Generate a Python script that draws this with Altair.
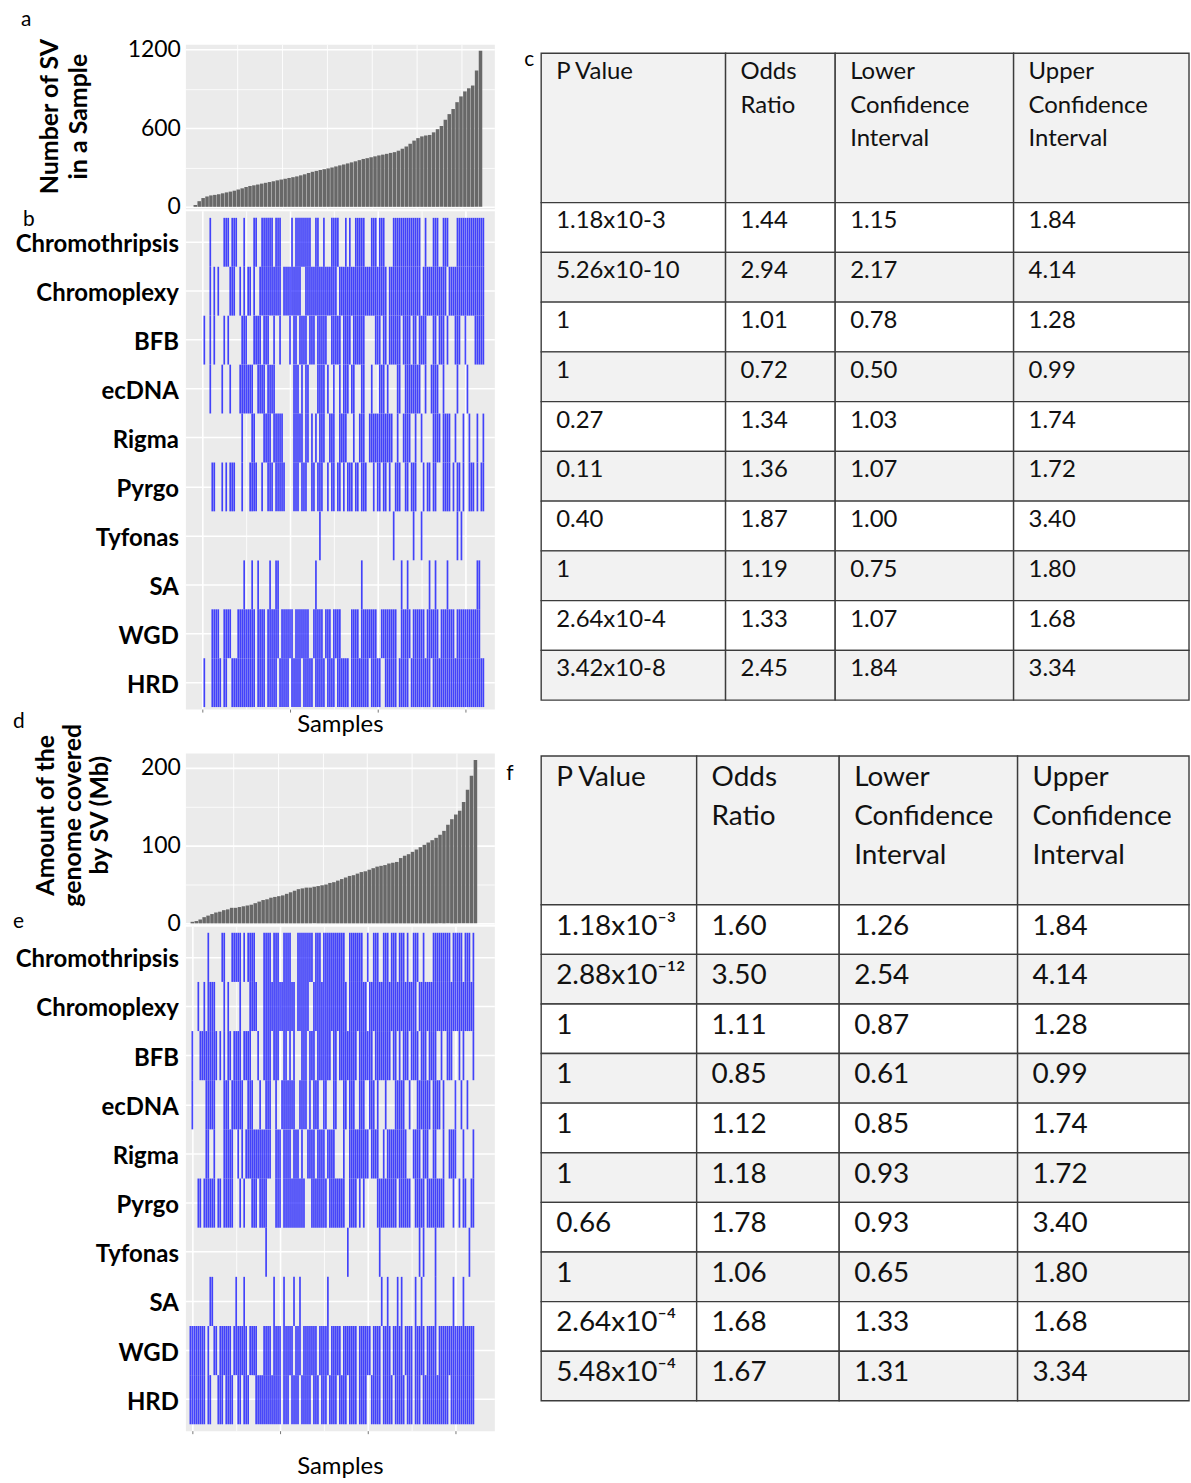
import altair as alt
import pandas as pd

FONT = "Lato"
BLUE = "#0000ff"

# ---------------- data ----------------
# panel a: number of SV per sample (sorted)
SV_PER_SAMPLE = [14, 43, 67, 79, 87, 91, 96, 103, 110, 116, 123, 132, 141, 151, 159, 164, 170, 177, 183, 189,
                 195, 202, 208, 214, 220, 226, 232, 240, 248, 258, 267, 274, 281, 287, 293, 300, 308, 316, 323, 331,
                 339, 347, 356, 365, 371, 378, 385, 392, 398, 404, 411, 417, 428, 443, 460, 481, 505, 524, 537, 544,
                 548, 568, 592, 616, 664, 707, 746, 798, 842, 880, 904, 925, 1040, 1190]
# panel d: genome covered by SV (Mb), sorted
GENOME_MB = [2, 3, 5, 8, 10, 12, 14, 15, 17, 18, 20, 20, 21, 22, 23, 24, 26, 28, 30, 31,
             33, 34, 35, 36, 38, 40, 42, 44, 45, 46, 46, 47, 48, 49, 50, 52, 53, 55, 57, 59,
             61, 62, 64, 66, 67, 69, 71, 73, 74, 75, 77, 78, 79, 84, 87, 89, 92, 95, 98, 101,
             104, 107, 110, 114, 119, 127, 134, 140, 145, 156, 172, 190, 210]

CATEGORIES = ["Chromothripsis", "Chromoplexy", "BFB", "ecDNA", "Rigma", "Pyrgo", "Tyfonas", "SA", "WGD", "HRD"]

# panel b: sample positions carrying each event (ranges of sample slots)
B_CHROMOTHRIPSIS = "5 12-14 16-18 22 27-28 31-33 34-36 38-40 46 48-51 52-55 58-59 62 66-69 73 75 78-81 82 86-88 90-92 97-100 101-106 107-110 113 117-119 122-124 129-131 132-135 136-139 140-142"
B_CHROMOPLEXY = "5 7 9 15-16 17 20 22 24-25 27 30-32 33-34 35-37 38-40 42-50 53-57 58-63 64-68 70-80 81-86 87-93 95-100 101-110 112-114 115-123 125-128 129-131 132-136 137-142"
B_BFB = "2 5 7 12 14 21-23 27-30 32-34 37 40 45 47-48 50-53 55-57 59-62 63 66-67 68-70 72-73 74-75 77 78-81 82 88-90 92-93 95-97 98-100 102-105 107-108 110-112 113 117-118 120-122 124 128-130 133 138-142"
B_ECDNA = "5 11 15 20-23 24-26 29-32 34-37 47-49 51 53-54 59-62 64 67 70 72-74 76-77 81-82 86 90-92 94 99-100 103-107 108-110 113 116-119 122 129 134"
B_RIGMA = "21 26-27 32-35 37-41 47-48 49-51 53-54 56 58 60-62 65-67 70-72 73 77 80-82 85-87 88-93 94-96 99 102-105 108 111 117-120 122-125 128 132 135 139 142"
B_PYRGO = "6-7 11 13 15-17 21 25-28 31 34-36 38-42 47-49 51-53 56-57 59-61 64 66-67 69-70 72 74-76 78-79 81-83 87 89-90 92-93 95 98-100 103-104 106-107 108 112 114-115 117-118 122-125 127 129-130 132 135-137 139 141-142"
B_TYFONAS = "60 97 107 111 129 131"
B_SA = "22 26 29 35 38-39 58 81 101 104 115 118 124 139-140"
B_WGD = "6-9 12-15 19-23 24-27 29-32 34-39 41-46 48-54 57-61 63-65 67-70 76-79 81-88 91-98 101-105 107-112 114-119 121-127 129-140"
B_HRD = "2 6-10 12-13 16-19 20-23 24-27 29-32 34-38 40-44 46-50 52-56 58-62 64-67 69-74 76-80 81-84 86-90 93-98 100-104 106-115 117-142"

# panel e
E_CHROMOTHRIPSIS = "9 16-17 21-23 24-25 27 29-32 37-40 42-44 47-50 54-57 58-61 63-65 67-69 70-77 80-81 82-86 89 92-94 97-99 101-103 105-107 109 112-114 117 122-125 126-130 132-136 138-140 142"
E_CHROMOPLEXY = "4 7 9-12 17 19 25 30-32 33 37-40 41-43 44-52 54-57 58-59 62-69 70-78 80-88 90-95 96-105 106-113 115-122 123-133 134-142"
E_BFB = "1 5-7 8-9 10-11 12-13 15 17 19-20 22-24 25 27-30 34 37-40 42-44 47-48 50 52 56-58 60-62 64-67 68-70 72-73 75-77 78-81 82-83 85-88 89-91 93-97 98-100 102-103 105 107-109 111-114 116-118 120-122 123 126 129-131 135 137 142"
E_ECDNA = "1 8-11 12 17-19 21-22 23-25 26 29-31 35 38-40 43 46-49 50-52 55-58 60 62-64 67-68 72-73 77-78 80-82 85-87 90-92 94 98 103-107 110 114-117 118-120 122-125 127 133 136 139"
E_RIGMA = "8-9 12 17-21 24 26 28-32 33-37 38-40 43-45 47-50 52-54 56 59-61 62 64-67 69-71 72 77 80-82 83-86 87-89 91-94 97 99-102 103-107 108 112-115 117-119 122 123 127 130-132 133 137 142"
E_PYRGO = "4-5 7-12 14-15 17-21 25 27 31-33 35-38 43-45 47-52 53-57 61-63 64-68 70-72 73-75 76-77 80-83 85 87 94-97 98-103 105-107 108-110 113-117 119-122 123-127 132 135 137-138 141-142"
E_TYFONAS = "38 79 95 115 117 123 140"
E_SA = "10 11 23 27 42 47 52 55 69 96 99 104 106 113 116 123 132 137"
E_WGD = "0-7 9 12-13 15-17 18-20 22-28 30-33 37-40 42-45 47-51 53-55 57-63 65-69 71-75 77-83 85-90 92-95 97-100 102-106 108-111 113-117 119-123 125-142"
E_HRD = "0-7 9-10 14-16 18-21 24-25 27-29 33-45 47-49 51-54 56-60 62-64 66-68 70-73 75-78 80-83 85-88 91-95 97-101 103-107 109-111 113-115 117-122 123-129 131-142"

B_ROWS = [B_CHROMOTHRIPSIS, B_CHROMOPLEXY, B_BFB, B_ECDNA, B_RIGMA, B_PYRGO, B_TYFONAS, B_SA, B_WGD, B_HRD]
E_ROWS = [E_CHROMOTHRIPSIS, E_CHROMOPLEXY, E_BFB, E_ECDNA, E_RIGMA, E_PYRGO, E_TYFONAS, E_SA, E_WGD, E_HRD]

# tables
HEADERS = ["P Value", "Odds\nRatio", "Lower\nConfidence\nInterval", "Upper\nConfidence\nInterval"]
C_PVALUE = ["1.18x10-3", "5.26x10-10", "1", "1", "0.27", "0.11", "0.40", "1", "2.64x10-4", "3.42x10-8"]
C_ODDS = [1.44, 2.94, 1.01, 0.72, 1.34, 1.36, 1.87, 1.19, 1.33, 2.45]
C_LOWER = [1.15, 2.17, 0.78, 0.50, 1.03, 1.07, 1.00, 0.75, 1.07, 1.84]
C_UPPER = [1.84, 4.14, 1.28, 0.99, 1.74, 1.72, 3.40, 1.80, 1.68, 3.34]

F_PVALUE = ["1.18x10\u207b\u00b3", "2.88x10\u207b\u00b9\u00b2", "1", "1", "1", "1", "0.66", "1",
            "2.64x10\u207b\u2074", "5.48x10\u207b\u2074"]
F_ODDS = [1.60, 3.50, 1.11, 0.85, 1.12, 1.18, 1.78, 1.06, 1.68, 1.67]
F_LOWER = [1.26, 2.54, 0.87, 0.61, 0.85, 0.93, 0.93, 0.65, 1.33, 1.31]
F_UPPER = [1.84, 4.14, 1.28, 0.99, 1.74, 1.72, 3.40, 1.80, 1.68, 3.34]


# ---------------- helpers ----------------
def expand(spec):
    out = set()
    for tok in spec.split():
        if "-" in tok:
            lo, hi = tok.split("-")
            out.update(range(int(lo), int(hi) + 1))
        else:
            out.add(int(tok))
    return sorted(out)


def panel_title(label, dx, dy):
    return alt.Title(label, anchor="start", orient="top", frame="group", dx=dx, dy=dy, offset=0,
                     fontSize=21, fontWeight="normal", font=FONT, color="black", baseline="middle")


GRAY_VIEW = alt.ViewBackground(fill="#ebebeb", stroke="transparent")
CLEAR_VIEW = alt.ViewBackground(stroke="transparent")


def bar_panel(values, label, ldx, ldy, ytitle, ydomain, xdomain, xgrid, tick_vals, major, height,
              title_pad, title_lh, title_y):
    df = pd.DataFrame({"sample": list(range(len(values))), "value": values})
    major_test = f"datum.value % {major} == 0"
    return alt.Chart(df, title=panel_title(label, ldx, ldy)).transform_calculate(
        x0="datum.sample - 0.45", x1="datum.sample + 0.45"
    ).mark_rect(color="#686868").encode(
        x=alt.X("x0:Q", scale=alt.Scale(domain=xdomain, nice=False, zero=False),
                axis=alt.Axis(values=xgrid, labels=False, ticks=False, domain=False, title=None,
                              grid=True, gridColor="white", gridWidth=0.9)),
        x2="x1:Q",
        y=alt.Y("value:Q", scale=alt.Scale(domain=ydomain, nice=False, zero=False),
                axis=alt.Axis(values=tick_vals, format="d",
                              labelExpr=f"{major_test} ? datum.label : ''",
                              grid=True, gridColor="white",
                              gridWidth={"condition": {"test": major_test, "value": 1.6}, "value": 0.8},
                              ticks=False, domain=False, labelFont=FONT, labelFontSize=23,
                              labelColor="black", labelPadding=5,
                              title=ytitle, titleFont=FONT, titleFontSize=25, titleFontWeight="bold",
                              titleColor="black", titlePadding=title_pad, titleLineHeight=title_lh,
                              titleY=title_y)),
        y2=alt.datum(0),
    ).properties(width=310, height=height, view=GRAY_VIEW)


def tile_panel(specs, label, ldx, ldy, xdomain, height, pad_outer, band_align, band, title_pad):
    recs = [{"category": cat, "sample": p}
            for cat, spec in zip(CATEGORIES, specs) for p in expand(spec)]
    df = pd.DataFrame(recs)
    grid_vals = [1, 23, 45, 67, 89, 111, 133]
    is_major = "indexof([1, 45, 89, 133], datum.value) >= 0"
    return alt.Chart(df, title=panel_title(label, ldx, ldy)).mark_tick(
        color=BLUE, opacity=0.72, thickness=1.7, size=band
    ).encode(
        x=alt.X("sample:Q", scale=alt.Scale(domain=xdomain, nice=False, zero=False),
                axis=alt.Axis(values=grid_vals, labels=False, grid=True, gridColor="white",
                              gridWidth={"condition": {"test": is_major, "value": 1.6}, "value": 0.8},
                              ticks=True, tickSize=3, tickColor="#777777",
                              tickOpacity={"condition": {"test": is_major, "value": 1}, "value": 0},
                              domain=False, title="Samples", titleFont=FONT, titleFontSize=24,
                              titleFontWeight="normal", titleColor="black", titlePadding=title_pad)),
        y=alt.Y("category:N", sort=CATEGORIES,
                scale=alt.Scale(paddingInner=0, paddingOuter=pad_outer, align=band_align),
                axis=alt.Axis(title=None, labelFont=FONT, labelFontSize=24, labelFontWeight="bold",
                              labelColor="black", ticks=False, domain=False, grid=True,
                              gridColor="white", gridWidth=1.5, labelPadding=7, bandPosition=0.5,
                              labelOffset=3)),
    ).properties(width=310, height=height, view=GRAY_VIEW)


def table_panel(pvals, odds, lows, ups, widths, label, ldx, ldy, height,
                font_size, line_h, dx, dy):
    edges = [0]
    for w in widths:
        edges.append(edges[-1] + w)
    recs = []
    for c in range(4):
        recs.append(dict(row=0, x0=edges[c], x1=edges[c + 1], y0=0, y1=3, text=HEADERS[c], shade=1))
    for r in range(len(pvals)):
        vals = [pvals[r], f"{odds[r]:.2f}", f"{lows[r]:.2f}", f"{ups[r]:.2f}"]
        for c in range(4):
            recs.append(dict(row=r + 1, x0=edges[c], x1=edges[c + 1], y0=3 + r, y1=4 + r,
                             text=vals[c], shade=r % 2))
    df = pd.DataFrame(recs)
    n_units = 3 + len(pvals)
    xs = alt.Scale(domain=[0, edges[-1]], nice=False, zero=False)
    ys = alt.Scale(domain=[0, n_units], nice=False, zero=False, reverse=True)
    base = alt.Chart(df)
    cells = base.mark_rect(stroke="#3c3c3c", strokeWidth=1.4).encode(
        x=alt.X("x0:Q", scale=xs, axis=None), x2="x1:Q",
        y=alt.Y("y0:Q", scale=ys, axis=None), y2="y1:Q",
        fill=alt.condition(alt.datum.shade == 1, alt.value("#f2f2f2"), alt.value("#ffffff")),
    )
    texts = base.mark_text(align="left", baseline="top", dx=dx, dy=dy, font=FONT,
                           fontSize=font_size, lineBreak="\n", lineHeight=line_h,
                           color="#111111").encode(
        x=alt.X("x0:Q", scale=xs, axis=None),
        y=alt.Y("y0:Q", scale=ys, axis=None),
        text="text:N",
    )
    return alt.layer(cells, texts, title=panel_title(label, ldx, ldy)).properties(
        width=650, height=height, view=CLEAR_VIEW)


def spacer(w, h):
    return alt.Chart(pd.DataFrame({"v": []})).mark_point(opacity=0).encode(
        x=alt.X("v:Q", axis=None), y=alt.Y("v:Q", axis=None)
    ).properties(width=w, height=h, view=CLEAR_VIEW)


# ---------------- panels ----------------
a = bar_panel(SV_PER_SAMPLE, "a", -165, 3, ["Number of SV", "in a Sample"], [-15, 1239],
              [-2.54, 76.54], [10.7, 22.2, 33.7, 45.2, 56.6, 68.1],
              [0, 300, 600, 900, 1200], 600, 165, 36, 29, 72)
b = tile_panel(B_ROWS, "b", -163, 30, [-7.5, 147.5], 500, 0.092, 0.78, 49, 0)
d = bar_panel(GENOME_MB, "d", -173, 20, ["Amount of the", "genome covered", "by SV (Mb)"],
              [-1.3, 219.2], [-1.77, 76.81], [10.4, 21.8, 33.2, 44.4, 55.8, 67.2],
              [0, 50, 100, 150, 200], 100, 172, 28, 27, 62)
e = tile_panel(E_ROWS, "e", -173, 17, [-2.5, 152.5], 506, 0.13, 0.5, 49.3, 20)

c = table_panel(C_PVALUE, C_ODDS, C_LOWER, C_UPPER, [185, 110, 179, 176], "c", -17, 28,
                649, 24, 33.5, 15, 7)
f = table_panel(F_PVALUE, F_ODDS, F_LOWER, F_UPPER, [156, 143, 179, 172], "f", -35, 40,
                647, 28, 39, 15, 8)

left = alt.vconcat(a, b, spacer(310, 40), d, e, spacing=2, bounds="flush")
right = alt.vconcat(spacer(10, 7), c, spacer(10, 52), f, spacing=2, bounds="flush")

chart = alt.hconcat(left, right, spacing=10).properties(
    padding={"left": 12, "top": 6, "right": 0, "bottom": 0},
    background="white",
).configure(font=FONT)

chart.save("out.html", embed_options={"renderer": "svg", "actions": False})
